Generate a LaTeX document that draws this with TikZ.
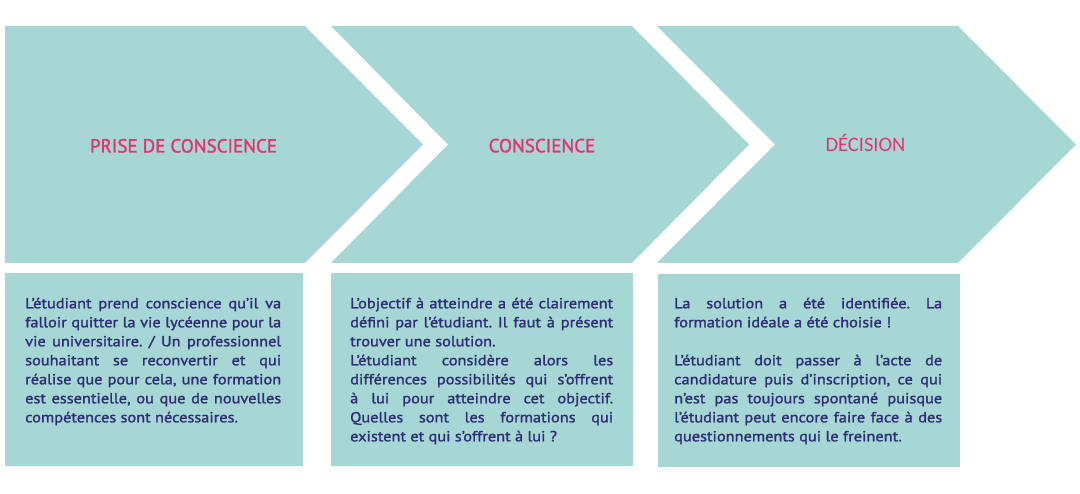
\documentclass[tikz,border=0pt]{standalone}
\usepackage{fontspec}
\setmainfont{PT Sans}
\newfontfamily\medfont[FakeBold=1.6]{PT Sans}
\newfontfamily\bodyfont[FakeBold=1.5,FakeStretch=1.12]{PT Sans}
\newfontfamily\calibfont{Carlito}
\definecolor{tealbg}{HTML}{A6D7D5}
\definecolor{pinkt}{HTML}{E5336F}
\definecolor{navyt}{HTML}{2E2D76}
\newcommand{\jl}[1]{\makebox[\linewidth][s]{#1}\\}
\frenchspacing
\begin{document}
\begin{tikzpicture}[x=1pt,y=-1pt,
  panel/.style={fill=tealbg, draw=none},
  titletext/.style={text=pinkt, font=\medfont\fontsize{19}{22}\selectfont, inner sep=0pt, anchor=base},
  bodytext/.style={text=navyt, font=\bodyfont\fontsize{14.6}{19}\selectfont, inner sep=0pt, anchor=base west}]
\useasboundingbox (0,0) rectangle (1080,494);
% chevrons
\fill[panel] (5,26) -- (305,26) -- (423,144.5) -- (305,263) -- (5,263) -- cycle;
\fill[panel] (331,26) -- (632,26) -- (749,144.5) -- (632,263) -- (331,263) -- (448,144.5) -- cycle;
\fill[panel] (657,26) -- (958,26) -- (1076,144.5) -- (958,263) -- (657,263) -- (775,144.5) -- cycle;
% boxes
\fill[panel] (5,273) rectangle (303,466);
\fill[panel] (331,273) rectangle (633,466);
\fill[panel] (658,274) rectangle (960,467);
% titles
\node[titletext] (t1) at (183.5,152.5) {PRISE DE CONSCIENCE};
\node[titletext] (t2) at (542,152.3) {CONSCIENCE};
\node[titletext, font=\calibfont\fontsize{20.5}{24}\selectfont] (t3) at (865.5,151.7) {DÉCISION};
% bodies
\node[bodytext] (b1) at (25,308.3) {\parbox[t]{256pt}{\baselineskip=19pt\parindent=0pt
\jl{L’étudiant prend conscience qu’il va}
\jl{falloir quitter la vie lycéenne pour la}
\jl{vie universitaire. / Un professionnel}
\jl{souhaitant se reconvertir et qui}
\jl{réalise que pour cela, une formation}
\jl{est essentielle, ou que de nouvelles}
compétences sont nécessaires.}};
\node[bodytext] (b2) at (350,308.3) {\parbox[t]{263pt}{\baselineskip=19pt\parindent=0pt
\jl{L’objectif à atteindre a été clairement}
\jl{défini par l’étudiant. Il faut à présent}
trouver une solution.\\
\jl{L’étudiant considère alors les}
\jl{différences possibilités qui s’offrent}
\jl{à lui pour atteindre cet objectif.}
\jl{Quelles sont les formations qui}
existent et qui s’offrent à lui ?}};
\node[bodytext] (b3) at (674,308.3) {\parbox[t]{268pt}{\baselineskip=19pt\parindent=0pt
\jl{La solution a été identifiée. La}
formation idéale a été choisie !\\
\mbox{}\\
\jl{L’étudiant doit passer à l’acte de}
\jl{candidature puis d’inscription, ce qui}
\jl{n’est pas toujours spontané puisque}
\jl{l’étudiant peut encore faire face à des}
questionnements qui le freinent.}};
\end{tikzpicture}
\end{document}
